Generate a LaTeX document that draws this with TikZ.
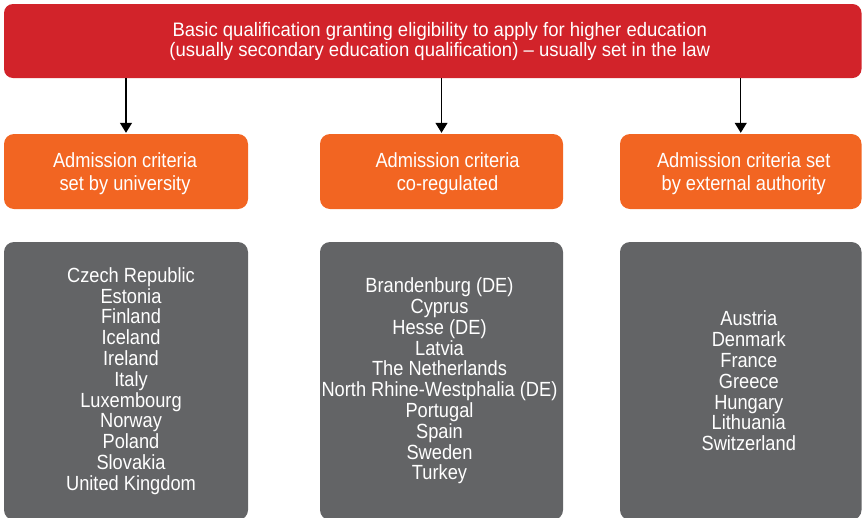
\documentclass[tikz,border=0pt]{standalone}
\usepackage{fontspec}
\setmainfont{Liberation Sans}
\newfontfamily\narrowfont{Liberation Sans}[FakeStretch=0.89]
\newfontfamily\topfont{Liberation Sans}[FakeStretch=0.95]
\usetikzlibrary{arrows.meta,calc}
\definecolor{topred}{HTML}{D2232A}
\definecolor{midorange}{HTML}{F26522}
\definecolor{listgrey}{HTML}{636466}
\tikzset{
  topbox/.style={fill=topred, rounded corners=9pt, inner sep=0pt, minimum height=74pt},
  critbox/.style={fill=midorange, rounded corners=10pt, inner sep=0pt, minimum height=75pt},
  listbox/.style={fill=listgrey, rounded corners=10pt, inner sep=0pt, minimum height=278pt},
  toptext/.style={inner sep=0pt, text=white, align=center, font={\topfont\fontsize{19.5}{19.5}\selectfont}},
  crittext/.style={inner sep=0pt, text=white, align=center, font={\narrowfont\fontsize{20.5}{23}\selectfont}},
  listtext/.style={inner sep=0pt, text=white, align=center, font={\narrowfont\fontsize{20.5}{20.8}\selectfont}},
  arr/.style={draw=black, line width=1.2pt, -{Triangle[width=12pt,length=10pt]}, shorten >=1pt}
}
\begin{document}
\begin{tikzpicture}[x=1pt,y=-1pt]
\useasboundingbox (0,0) rectangle (862,517);
% boxes
\node[topbox, minimum width=857.5pt] (top) at (432.75,41) {};
\node[critbox, minimum width=244pt] (c1) at (126,171.5) {};
\node[critbox, minimum width=243pt] (c2) at (441.5,171.5) {};
\node[critbox, minimum width=241.5pt] (c3) at (740.75,171.5) {};
\node[listbox, minimum width=244pt] (l1) at (126,381) {};
\node[listbox, minimum width=243pt] (l2) at (441.5,381) {};
\node[listbox, minimum width=241.5pt] (l3) at (740.75,381) {};
% texts
\node[toptext] (topt) at ($(top.center)+(7,0.5)$)
  {Basic qualification granting eligibility to apply for higher education\\(usually secondary education qualification) – usually set in the law};
\node[crittext] (c1t) at ($(c1.center)+(-1,2)$) {Admission criteria\\set by university};
\node[crittext] (c2t) at ($(c2.center)+(6,2)$) {Admission criteria\\co-regulated};
\node[crittext] (c3t) at ($(c3.center)+(3,2)$) {Admission criteria set\\by external authority};
\node[listtext] (l1t) at ($(l1.center)+(5,0)$)
  {Czech Republic\\Estonia\\Finland\\Iceland\\Ireland\\Italy\\Luxembourg\\Norway\\Poland\\Slovakia\\United Kingdom};
\node[listtext] (l2t) at ($(l2.center)+(-2,0)$)
  {Brandenburg (DE)\\Cyprus\\Hesse (DE)\\Latvia\\The Netherlands\\North Rhine-Westphalia (DE)\\Portugal\\Spain\\Sweden\\Turkey};
\node[listtext] (l3t) at ($(l3.center)+(8,0)$)
  {Austria\\Denmark\\France\\Greece\\Hungary\\Lithuania\\Switzerland};
% connectors
\draw[arr] (top.south -| c1.north) -- (c1.north);
\draw[arr] (top.south -| c2.north) -- (c2.north);
\draw[arr] (top.south -| c3.north) -- (c3.north);
\end{tikzpicture}
\end{document}
